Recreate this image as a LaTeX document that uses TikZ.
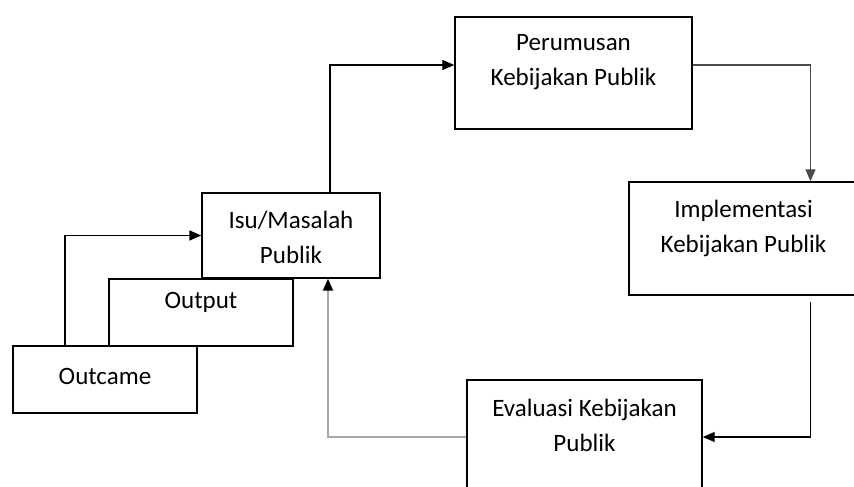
\documentclass[tikz,border=0pt]{standalone}
\usepackage{fontspec}
\setmainfont{Carlito}
\usetikzlibrary{arrows.meta}
\begin{document}
\begin{tikzpicture}[
  x=1pt, y=-1pt,
  box/.style={draw, line width=1.4pt, fill=white, inner sep=0pt},
  lbl/.style={align=center, font=\fontsize{25}{35}\selectfont},
  arrow/.style={-{Triangle[length=12pt,width=10pt]}, line width=1.2pt},
  greyarrow/.style={draw=gray!70, line width=1.8pt, -{Triangle[length=12pt,width=10pt,color=black]}}
]
\useasboundingbox (0,0) rectangle (854,487);
\clip (0,0) rectangle (854,487);
\node[box, minimum width=237pt, minimum height=112pt,
  label={[lbl, yshift=10.5pt]center:Perumusan\\Kebijakan Publik}] (perumusan) at (573.5,73) {};
\node[box, minimum width=229pt, minimum height=113pt,
  label={[lbl, yshift=10.5pt]center:Implementasi\\Kebijakan Publik}] (implementasi) at (743.5,238.5) {};
\node[box, minimum width=235pt, minimum height=114pt,
  label={[lbl, yshift=11.5pt]center:Evaluasi Kebijakan\\Publik}] (evaluasi) at (584.5,437) {};
\node[box, minimum width=184pt, minimum height=67pt,
  label={[lbl, yshift=3pt]center:Outcame}] (outcame) at (105,379.5) {};
\node[box, minimum width=184pt, minimum height=67pt,
  label={[lbl, yshift=10pt]center:Output}] (output) at (201,312.5) {};
\node[box, minimum width=178pt, minimum height=85pt,
  label={[lbl, yshift=-2pt]center:Isu/Masalah\\Publik}] (isu) at (291,235.5) {};
\draw[arrow, line width=1.6pt] ([xshift=-40pt]outcame.north) |- (isu.west);
\draw[arrow] ([xshift=39pt]isu.north) |- ([yshift=8pt]perumusan.west);
\draw[arrow, draw=black!70] ([yshift=8pt]perumusan.east) -| ([xshift=67pt]implementasi.north);
\draw[arrow] ([xshift=67pt, yshift=-6pt]implementasi.south) |- (evaluasi.east);
\draw[greyarrow] (evaluasi.west) -| ([xshift=37pt]isu.south);
\end{tikzpicture}
\end{document}
